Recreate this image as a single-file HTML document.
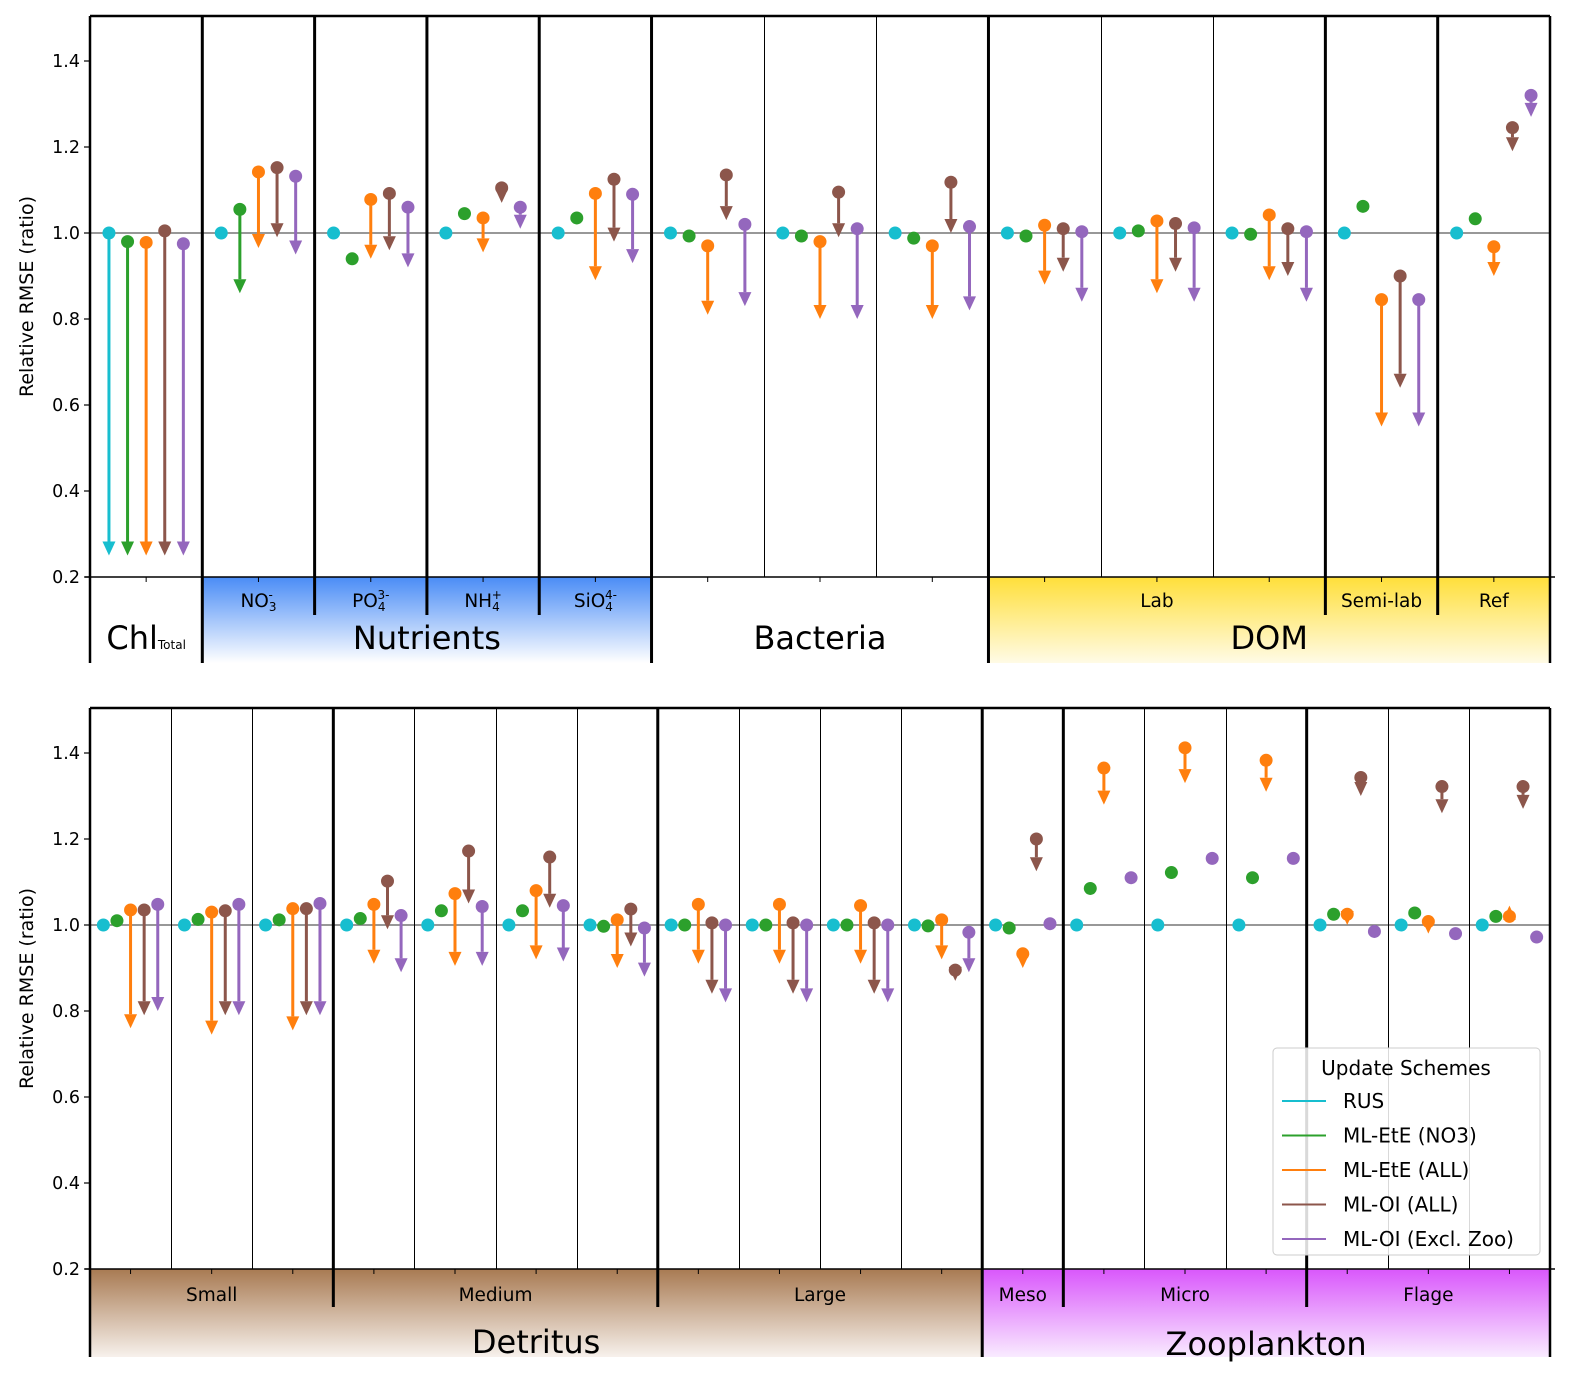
<!DOCTYPE html>
<html><head><meta charset="utf-8">
<style>
body{margin:0;background:#fff;}
svg{display:block;font-family:"DejaVu Sans","Liberation Sans",sans-serif;}
</style></head>
<body>
<svg id="chart" width="1587" height="1395" viewBox="0 0 1587 1395" xmlns="http://www.w3.org/2000/svg">
<defs>
<linearGradient id="gBlue" x1="0" y1="0" x2="0" y2="1"><stop offset="0" stop-color="#4a8cf6"/><stop offset="1" stop-color="#ffffff"/></linearGradient>
<linearGradient id="gYellow" x1="0" y1="0" x2="0" y2="1"><stop offset="0" stop-color="#ffdf3a"/><stop offset="1" stop-color="#fffbe6"/></linearGradient>
<linearGradient id="gBrown" x1="0" y1="0" x2="0" y2="1"><stop offset="0" stop-color="#a87a52"/><stop offset="1" stop-color="#f7f1ec"/></linearGradient>
<linearGradient id="gMag" x1="0" y1="0" x2="0" y2="1"><stop offset="0" stop-color="#d957fb"/><stop offset="1" stop-color="#f9ebff"/></linearGradient>
</defs>
</svg>
<script>
// ---------- data ----------
const schemes = ["RUS","ML-EtE (NO3)","ML-EtE (ALL)","ML-OI (ALL)","ML-OI (Excl. Zoo)"];
const yTicks = [0.2,0.4,0.6,0.8,1.0,1.2,1.4];
const yTickLabels = ["0.2","0.4","0.6","0.8","1.0","1.2","1.4"];

const topCats = ["Chl","NO3","PO4","NH4","SiO4","Bact1","Bact2","Bact3","Lab1","Lab2","Lab3","Semi-lab","Ref"];
const topRusStart = [1,1,1,1,1,1,1,1,1,1,1,1,1];
const topRusEnd = [0.25,null,null,null,null,null,null,null,null,null,null,null,null];
const topNo3Start = [0.98,1.055,0.94,1.045,1.035,0.993,0.993,0.988,0.993,1.005,0.997,1.062,1.033];
const topNo3End = [0.25,0.86,null,null,null,null,null,null,null,null,null,null,null];
const topAllStart = [0.978,1.142,1.078,1.035,1.092,0.97,0.98,0.97,1.018,1.028,1.042,0.845,0.968];
const topAllEnd = [0.25,0.965,0.94,0.955,0.89,0.81,0.80,0.80,0.88,0.86,0.89,0.55,0.90];
const topOiStart = [1.005,1.152,1.092,1.105,1.125,1.135,1.095,1.118,1.01,1.022,1.01,0.90,1.245];
const topOiEnd = [0.25,0.99,0.96,1.07,0.98,1.03,0.99,1.0,0.91,0.91,0.90,0.64,1.19];
const topExStart = [0.975,1.132,1.06,1.06,1.09,1.02,1.01,1.015,1.003,1.012,1.003,0.845,1.32];
const topExEnd = [0.25,0.95,0.92,1.01,0.93,0.83,0.80,0.82,0.84,0.84,0.84,0.55,1.27];

const botCats = ["S1","S2","S3","M1","M2","M3","M4","L1","L2","L3","L4","Meso","Mi1","Mi2","Mi3","F1","F2","F3"];
const botRusStart = [1,1,1,1,1,1,1,1,1,1,1,1,1,1,1,1,1,1];
const botRusEnd = [null,null,null,null,null,null,null,null,null,null,null,null,null,null,null,null,null,null];
const botNo3Start = [1.01,1.013,1.012,1.015,1.033,1.033,0.997,1.0,1.0,1.0,0.998,0.993,1.085,1.122,1.11,1.025,1.028,1.02];
const botNo3End = [null,null,null,null,null,null,null,null,null,null,null,null,null,null,null,null,null,null];
const botAllStart = [1.035,1.03,1.038,1.048,1.073,1.08,1.012,1.048,1.048,1.045,1.012,0.933,1.365,1.412,1.383,1.025,1.008,1.02];
const botAllEnd = [0.76,0.745,0.755,0.91,0.905,0.92,0.90,0.91,0.91,0.91,0.92,0.90,1.28,1.33,1.31,1.0,0.98,1.045];
const botOiStart = [1.035,1.033,1.038,1.102,1.172,1.158,1.037,1.005,1.005,1.005,0.895,1.2,null,null,null,1.343,1.322,1.322];
const botOiEnd = [0.79,0.79,0.79,0.99,1.05,1.04,0.95,0.84,0.84,0.84,0.87,1.125,null,null,null,1.3,1.26,1.27];
const botExStart = [1.048,1.048,1.05,1.022,1.043,1.045,0.993,1.0,1.0,1.0,0.983,1.003,1.11,1.155,1.155,0.985,0.98,0.972];
const botExEnd = [0.80,0.79,0.79,0.89,0.905,0.915,0.88,0.82,0.82,0.82,0.89,null,null,null,null,null,null,null];

const colors = ["#17becf","#2ca02c","#ff7f0e","#8c564b","#9467bd"];
const NS = "http://www.w3.org/2000/svg";
const svg = document.getElementById("chart");
function mk(tag, attrs, parent){
  const e = document.createElementNS(NS, tag);
  for (const k in attrs) e.setAttribute(k, attrs[k]);
  (parent||svg).appendChild(e);
  return e;
}

function drawPanel(p){
  const L=90, R=1550, top=p.top, base=p.base;
  const yS = v => base - (v-0.2)*430;
  const n = p.cats.length, cw = (R-L)/n;
  const xC = i => L + cw*(i+0.5);
  const g = mk("g",{});
  
  
  p.bands.forEach(b=>{
    const r = mk("rect",{x:L+b[0]*cw,y:base,width:(b[1]-b[0])*cw,height:p.bandH,fill:b[2]},g);
    
    
  });
  mk("line",{x1:L,x2:R,y1:yS(1),y2:yS(1),stroke:"#777","stroke-width":1.5},g);
  for(let i=1;i<n;i++){
    const x=L+cw*i, t=p.sep[i-1];
    if(t==="g") mk("line",{x1:x,x2:x,y1:top,y2:base+p.bandH,stroke:"#000","stroke-width":3},g);
    else if(t==="s") mk("line",{x1:x,x2:x,y1:top,y2:base+p.subH,stroke:"#000","stroke-width":3},g);
    else { const xr=Math.round(x)+0.5; mk("line",{x1:xr,x2:xr,y1:top,y2:base,stroke:"#000","stroke-width":1},g); }
  }
  mk("line",{x1:L,x2:R,y1:top,y2:top,stroke:"#000","stroke-width":2.5},g);
  mk("line",{x1:L-5,x2:R+5,y1:base,y2:base,stroke:"#000","stroke-width":1.5},g);
  mk("line",{x1:L,x2:L,y1:top,y2:base+p.bandH,stroke:"#000","stroke-width":2.5},g);
  mk("line",{x1:R,x2:R,y1:top,y2:base+p.bandH,stroke:"#000","stroke-width":2.5},g);
  yTicks.forEach((v,i)=>{
    mk("line",{x1:L-6,x2:L,y1:yS(v),y2:yS(v),stroke:"#000","stroke-width":1.2},g);
    const t = mk("text",{x:L-10,y:yS(v)+6,"text-anchor":"end","font-size":17.5,fill:"#000"},g);
    t.textContent = yTickLabels[i];
    
    
  });
  p.cats.forEach((c,i)=>mk("line",{x1:xC(i),x2:xC(i),y1:base,y2:base+5,stroke:"#000","stroke-width":1},g));
  const yl = mk("text",{x:0,y:0,"text-anchor":"middle","font-size":19,transform:`translate(33,${(top+base)/2}) rotate(-90)`},g);
  yl.textContent="Relative RMSE (ratio)";
  
  
  const offs = [-2,-1,0,1,2].map(k=>k*p.sp);
  p.series.forEach((s,si)=>{
    s[0].forEach((v,i)=>{
      if(v===null) return;
      const x = xC(i)+offs[si], y0=yS(v), e=s[1][i];
      if(e!==null){
        const y1=yS(e), dir = y1>y0?1:-1, hl=14, hw=6.5;
        const ln = mk("line",{x1:x,x2:x,y1:y0,y2:y1-dir*hl,stroke:colors[si],"stroke-width":3},g);
        
        
        const hd = mk("polygon",{points:`${x-hw},${y1-dir*hl} ${x+hw},${y1-dir*hl} ${x},${y1}`,fill:colors[si]},g);
        
        
      }
      const c = mk("circle",{cx:x,cy:y0,r:6.5,fill:colors[si]},g);
      
      
    });
  });
  p.labels.forEach(l=>{
    const t = mk("text",{x:L+l[0]*cw,y:l[1],"text-anchor":"middle","font-size":l[2],fill:"#000"},g);
    t.innerHTML = l[3];
    
    
  });
}

drawPanel({
  name:"top-panel", top:16, base:577, bandH:86, subH:38, sp:18.6, cats:topCats,
  series:[[topRusStart,topRusEnd],[topNo3Start,topNo3End],[topAllStart,topAllEnd],[topOiStart,topOiEnd],[topExStart,topExEnd]],
  bands:[[1,5,"url(#gBlue)"],[8,13,"url(#gYellow)"]],
  sep:["g","s","s","s","g","t","t","g","t","t","s","s"],
  labels:[
    [0.5,649,32,'Chl<tspan font-size="12">Total</tspan>'],
    [3,649,32,'Nutrients'],[6.5,649,32,'Bacteria'],[10.5,649,32,'DOM'],
    [1.5,607,18.5,'NO<tspan font-size="12" dy="4">3</tspan><tspan font-size="12" dx="-8" dy="-12">-</tspan>'],
    [2.5,607,18.5,'PO<tspan font-size="12" dy="4">4</tspan><tspan font-size="12" dx="-8" dy="-12">3-</tspan>'],
    [3.5,607,18.5,'NH<tspan font-size="12" dy="4">4</tspan><tspan font-size="12" dx="-8" dy="-12">+</tspan>'],
    [4.5,607,18.5,'SiO<tspan font-size="12" dy="4">4</tspan><tspan font-size="12" dx="-8" dy="-12">4-</tspan>'],
    [9.5,607,18.5,'Lab'],[11.5,607,18.5,'Semi-lab'],[12.5,607,18.5,'Ref']
  ]
});

drawPanel({
  name:"bottom-panel", top:708, base:1269, bandH:88, subH:38, sp:13.6, cats:botCats,
  series:[[botRusStart,botRusEnd],[botNo3Start,botNo3End],[botAllStart,botAllEnd],[botOiStart,botOiEnd],[botExStart,botExEnd]],
  bands:[[0,11,"url(#gBrown)"],[11,18,"url(#gMag)"]],
  sep:["t","t","s","t","t","t","s","t","t","t","g","s","t","t","s","t","t"],
  labels:[
    [5.5,1353,32,'Detritus'],[14.5,1355,32,'Zooplankton'],
    [1.5,1301,18.5,'Small'],[5,1301,18.5,'Medium'],[9,1301,18.5,'Large'],
    [11.5,1301,18.5,'Meso'],[13.5,1301,18.5,'Micro'],[16.5,1301,18.5,'Flage']
  ]
});

const lg = mk("g",{});


mk("rect",{x:1273,y:1048,width:267,height:207,rx:4,fill:"#fff","fill-opacity":0.85,stroke:"#ccc","stroke-width":1},lg);
const lt = mk("text",{x:1406,y:1075,"text-anchor":"middle","font-size":20},lg);
lt.textContent="Update Schemes";


schemes.forEach((s,i)=>{
  const y = 1101 + i*34.5;
  const e = mk("g",{},lg);
  
  
  mk("line",{x1:1282,x2:1326,y1:y,y2:y,stroke:colors[i],"stroke-width":2},e);
  const t = mk("text",{x:1343,y:y+7,"font-size":20},e);
  t.textContent = s;
});
</script>
</body></html>
